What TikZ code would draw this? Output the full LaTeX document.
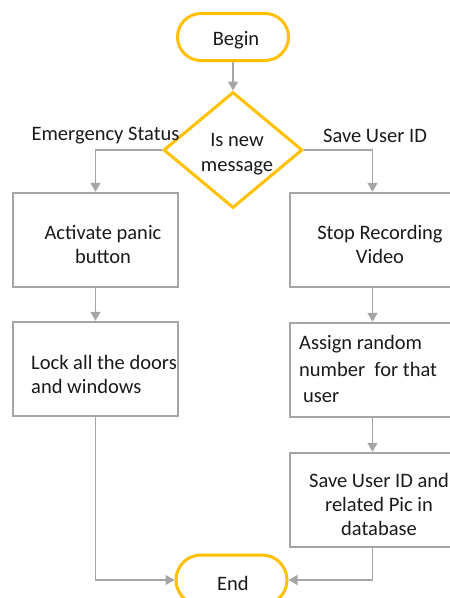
\documentclass[tikz,border=0pt]{standalone}
\usepackage{fontspec}
\setmainfont{Carlito}
\usetikzlibrary{shapes.geometric,shapes.misc,arrows.meta}
\definecolor{gold}{HTML}{FFC000}
\definecolor{lgray}{HTML}{A5A5A5}
\definecolor{ink}{HTML}{1A1A1A}
\begin{document}
\begin{tikzpicture}[x=1pt,y=-1pt,
  every node/.style={text=ink, font=\fontsize{20.5}{24}\selectfont},
  term/.style={rounded rectangle, draw=gold, line width=3pt, fill=white, minimum width=111pt, minimum height=47pt, inner sep=0pt},
  dec/.style={diamond, draw=gold, line width=3pt, fill=white, minimum width=139pt, minimum height=116pt, inner sep=0pt},
  box/.style={rectangle, draw=lgray, line width=2.5pt, minimum width=165pt, minimum height=94pt, inner sep=0pt},
  txt/.style={inner sep=0pt, align=center},
  conn/.style={draw=lgray, line width=1.4pt, -{Triangle[length=9pt,width=10pt]}}]
\useasboundingbox[fill=white] (0,0) rectangle (450,598);

\node[term] (begin) at (233,37) {};
\node[txt] (begint) at (236,40) {Begin};
\node[dec] (dec) at (233,150) {};
\node[txt, font=\fontsize{20.5}{25}\selectfont] (dect) at (237,154) {Is new\\message};

\node[box] (b1) at (95.5,240) {};
\node[txt] (t1) at (103,244) {Activate panic\\button};
\node[box] (b2) at (95.5,369) {};
\node[txt, align=left, anchor=west] (t2) at (31,374) {Lock all the doors\\and windows};

\node[box] (c1) at (372.5,240) {};
\node[txt] (u1) at (380,244) {Stop Recording\\Video};
\node[box] (c2) at (372.5,370) {};
\node[txt, align=left, anchor=west, font=\fontsize{20.5}{26.5}\selectfont] (u2) at (299,369) {Assign random\\number~ for that\\\hspace*{4pt}user};
\node[box] (c3) at (372.5,500) {};
\node[txt] (u3) at (379,504) {Save User ID and\\related Pic in\\database};

\node[term, minimum height=50pt] (end) at (231.5,580) {};
\node[txt] (endt) at (233,583) {End};

\draw[conn] (begin.south) -- (dec.north);
\draw[conn] (dec.west) -| (b1.north);
\draw[conn] (dec.east) -| (c1.north);
\draw[conn] (b1.south) -- (b2.north);
\draw[conn] (c1.south) -- (c2.north);
\draw[conn] (c2.south) -- (c3.north);
\draw[conn] (b2.south) |- (end.west);
\draw[conn] (c3.south) |- (end.east);

\node[txt] (lblL) at (105.5,136) {Emergency Status};
\node[txt] (lblR) at (375,136) {Save User ID};
\end{tikzpicture}
\end{document}
